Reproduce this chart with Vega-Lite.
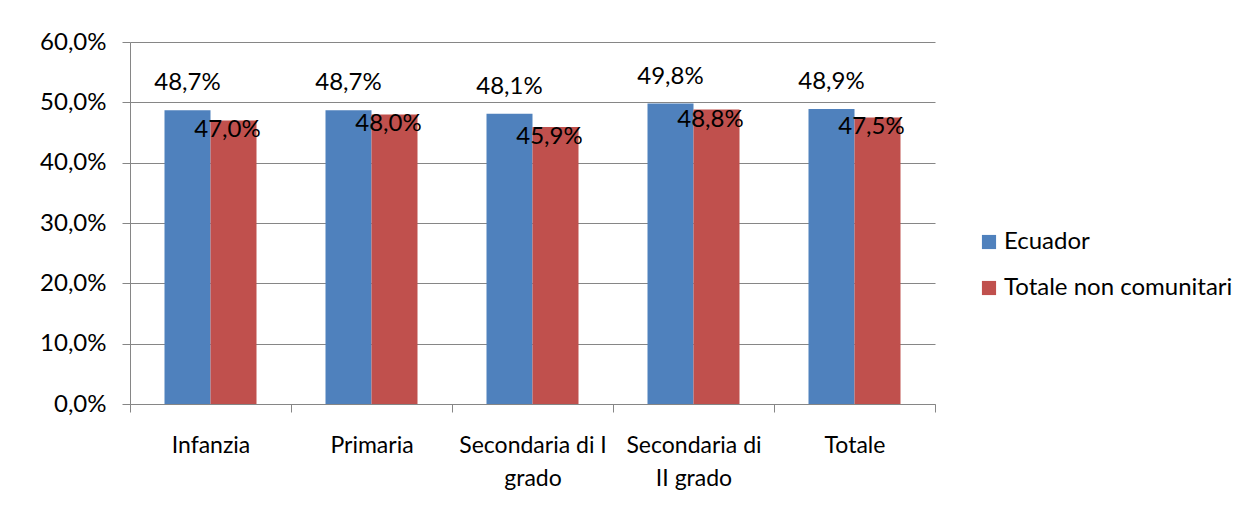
{
  "$schema": "https://vega.github.io/schema/vega-lite/v6.json",
  "autosize": "none",
  "width": 805,
  "height": 362,
  "padding": {"left": 130, "top": 42, "right": 316, "bottom": 109},
  "background": "white",
  "config": {
    "locale": {"number": {"decimal": ",", "thousands": ".", "grouping": [3], "currency": ["€", ""]}},
    "font": "Lato",
    "view": {"stroke": null}
  },
  "data": {
    "values": [
      {"livello": "Infanzia", "serie": "Ecuador", "valore": 0.487},
      {"livello": "Infanzia", "serie": "Totale non comunitari", "valore": 0.470},
      {"livello": "Primaria", "serie": "Ecuador", "valore": 0.487},
      {"livello": "Primaria", "serie": "Totale non comunitari", "valore": 0.480},
      {"livello": "Secondaria di I|grado", "serie": "Ecuador", "valore": 0.481},
      {"livello": "Secondaria di I|grado", "serie": "Totale non comunitari", "valore": 0.459},
      {"livello": "Secondaria di|II grado", "serie": "Ecuador", "valore": 0.498},
      {"livello": "Secondaria di|II grado", "serie": "Totale non comunitari", "valore": 0.488},
      {"livello": "Totale", "serie": "Ecuador", "valore": 0.489},
      {"livello": "Totale", "serie": "Totale non comunitari", "valore": 0.475}
    ]
  },
  "encoding": {
    "x": {
      "field": "livello", "type": "nominal", "sort": null,
      "scale": {"paddingInner": 0, "paddingOuter": 0},
      "axis": {
        "title": null, "labelAngle": 0, "labelExpr": "split(datum.label, '|')",
        "labelFontSize": 23, "labelColor": "#000000", "labelLimit": 300,
        "labelPadding": 22, "labelLineHeight": 33, "labelBaseline": "top",
        "tickBand": "extent", "tickSize": 8, "tickColor": "#868686",
        "domainColor": "#868686", "grid": false
      }
    },
    "xOffset": {"field": "serie", "type": "nominal", "scale": {"paddingInner": 0, "paddingOuter": 0.75}},
    "y": {
      "field": "valore", "type": "quantitative",
      "scale": {"domain": [0, 0.6], "nice": false},
      "axis": {
        "title": null, "format": ".1%", "values": [0, 0.1, 0.2, 0.3, 0.4, 0.5, 0.6],
        "labelFontSize": 24, "labelColor": "#000000", "labelPadding": 16,
        "tickSize": 8, "tickColor": "#868686", "domainColor": "#868686",
        "gridColor": "#868686", "gridOpacity": 1
      }
    }
  },
  "layer": [
    {
      "mark": {"type": "bar"},
      "encoding": {
        "color": {
          "field": "serie", "type": "nominal",
          "scale": {"domain": ["Ecuador", "Totale non comunitari"], "range": ["#4f81bd", "#c0504d"]},
          "legend": {
            "title": null, "orient": "none", "legendX": 847, "legendY": 188,
            "symbolType": "square", "symbolSize": 200, "symbolStrokeWidth": 0,
            "labelFontSize": 24, "labelColor": "#000000", "labelOffset": 3,
            "labelLimit": 400, "rowPadding": 22
          }
        }
      }
    },
    {
      "transform": [{"filter": "datum.serie == 'Ecuador'"}],
      "mark": {"type": "text", "baseline": "alphabetic", "dy": -20, "fontSize": 24, "color": "#000000"},
      "encoding": {"text": {"field": "valore", "type": "quantitative", "format": ".1%"}}
    },
    {
      "transform": [{"filter": "datum.serie == 'Totale non comunitari'"}],
      "mark": {"type": "text", "baseline": "top", "dy": -2, "dx": -6, "fontSize": 24, "color": "#000000"},
      "encoding": {"text": {"field": "valore", "type": "quantitative", "format": ".1%"}}
    }
  ]
}
